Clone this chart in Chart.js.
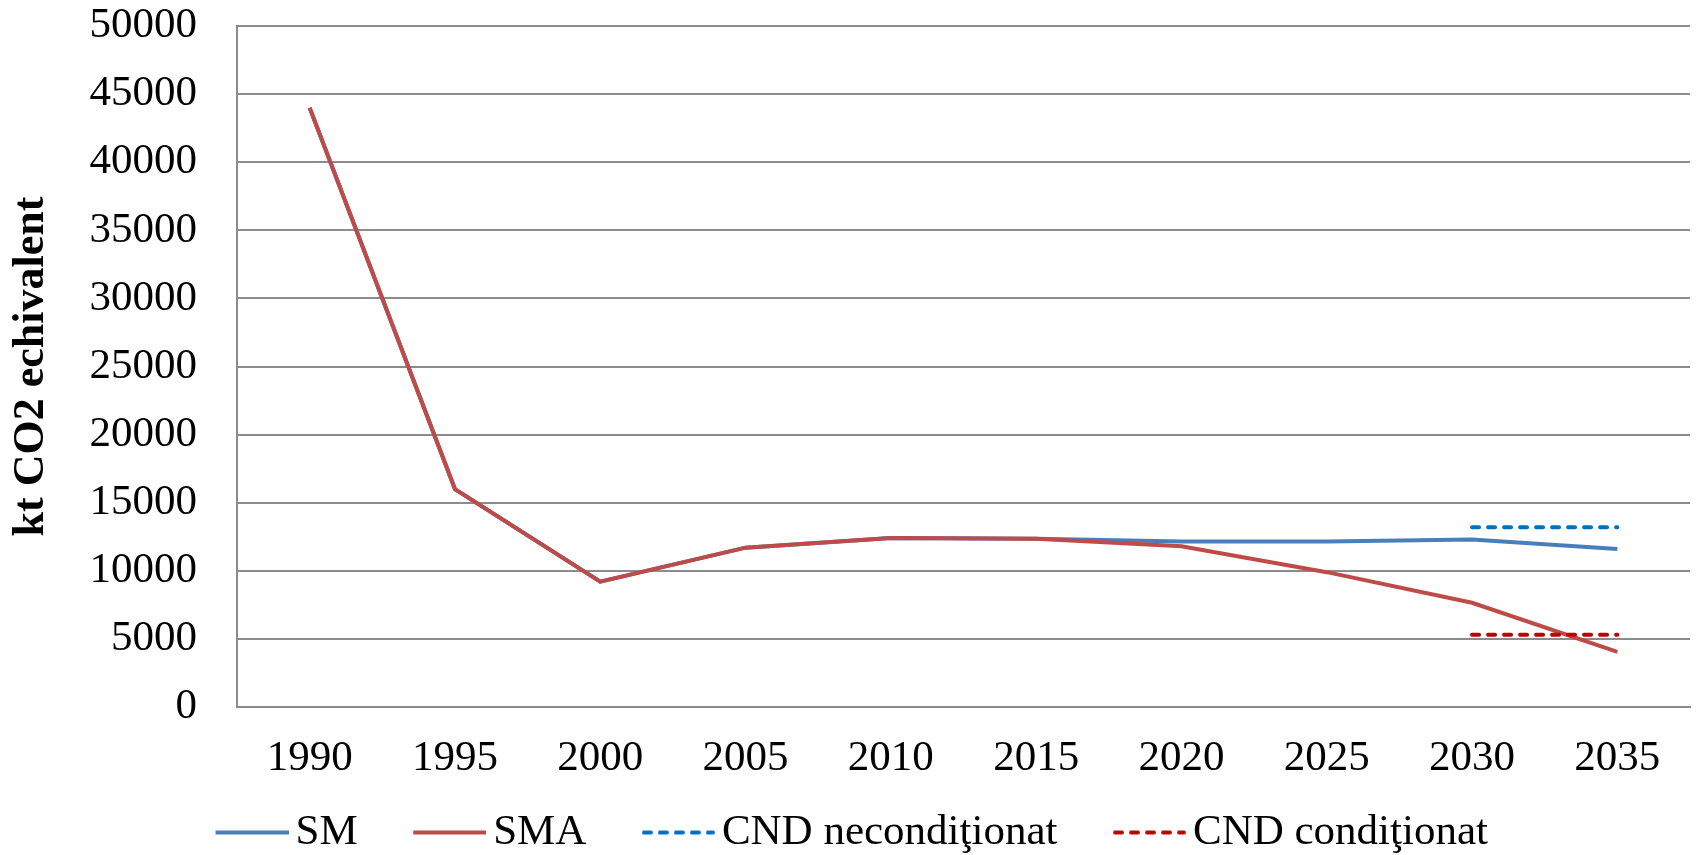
<!DOCTYPE html>
<html>
<head>
<meta charset="utf-8">
<script src="https://cdn.jsdelivr.net/npm/chart.js@4"></script>
<style>
html,body{margin:0;padding:0;background:#fff;}
#wrap{width:1696px;height:855px;position:relative;}
</style>
</head>
<body>
<div id="wrap"><canvas id="c"></canvas></div>
<script>
const years = ['1990','1995','2000','2005','2010','2015','2020','2025','2030','2035'];
const smValues = [44000, 16000, 9200, 11700, 12400, 12350, 12150, 12150, 12300, 11600];
const smaValues = [44000, 16000, 9200, 11700, 12400, 12350, 11800, 9900, 7650, 4050];
const cndNeconditionat = [null, null, null, null, null, null, null, null, 13200, 13200];
const cndConditionat = [null, null, null, null, null, null, null, null, 5300, 5300];
const yTicks = [0, 5000, 10000, 15000, 20000, 25000, 30000, 35000, 40000, 45000, 50000];

const FONT = "'Liberation Serif', 'Times New Roman', serif";
const GRID = '#8c8c8c';
const COLORS = ['#4A7EBB', '#BE4B48', '#0070C0', '#C00000'];
const DASH = [7, 9];

// legend line glyphs (line sits at the right part of the image, close to the text)
const BOXW = 82;
function legendGlyph(color, dashed) {
  const cv = document.createElement('canvas');
  cv.width = BOXW + 29; cv.height = 10;
  const g = cv.getContext('2d');
  g.strokeStyle = color; g.lineWidth = 4;
  g.lineCap = dashed ? 'round' : 'butt';
  if (dashed) g.setLineDash(DASH);
  g.beginPath();
  g.moveTo(cv.width - 73 + (dashed ? 2 : 0), 5);
  g.lineTo(cv.width - (dashed ? 2 : 0), 5);
  g.stroke();
  return cv;
}
const glyphs = [legendGlyph(COLORS[0], false), legendGlyph(COLORS[1], false), legendGlyph(COLORS[2], true), legendGlyph(COLORS[3], true)];

new Chart(document.getElementById('c'), {
  type: 'line',
  data: {
    labels: years,
    datasets: [
      {label: 'SM', data: smValues, borderColor: COLORS[0], backgroundColor: COLORS[0], borderWidth: 4, pointRadius: 0, order: 3, tension: 0},
      {label: 'SMA', data: smaValues, borderColor: COLORS[1], backgroundColor: COLORS[1], borderWidth: 4, pointRadius: 0, order: 2, tension: 0},
      {label: 'CND necondiţionat', data: cndNeconditionat, borderColor: COLORS[2], backgroundColor: COLORS[2], borderWidth: 4, borderDash: DASH, borderCapStyle: 'round', pointRadius: 0, order: 1},
      {label: 'CND condiţionat', data: cndConditionat, borderColor: COLORS[3], backgroundColor: COLORS[3], borderWidth: 4, borderDash: DASH, borderCapStyle: 'round', pointRadius: 0, order: 0}
    ]
  },
  options: {
    responsive: true,
    maintainAspectRatio: false,
    animation: false,
    devicePixelRatio: 1,
    layout: {padding: {left: -10, right: 6, top: 0, bottom: 0}},
    plugins: {
      tooltip: {enabled: false},
      legend: {
        position: 'bottom',
        maxHeight: 76,
        labels: {
          font: {family: FONT, size: 43},
          color: '#000',
          usePointStyle: true,
          pointStyleWidth: BOXW,
          boxWidth: BOXW,
          padding: 32,
          sort: (a, b) => a.datasetIndex - b.datasetIndex,
          generateLabels: (chart) => Chart.defaults.plugins.legend.labels.generateLabels(chart)
            .map(l => Object.assign(l, {pointStyle: glyphs[l.datasetIndex]}))
        }
      }
    },
    scales: {
      x: {
        offset: true,
        grid: {display: false, drawTicks: false},
        border: {display: true, color: GRID, width: 2},
        ticks: {font: {family: FONT, size: 43}, color: '#000', padding: 26, maxRotation: 0, autoSkip: false},
        afterFit: (s) => { s.height = 72; }
      },
      y: {
        min: 0,
        max: 50000,
        afterBuildTicks: (axis) => { axis.ticks = yTicks.map(v => ({value: v})); },
        grid: {color: GRID, lineWidth: 2, drawTicks: false},
        border: {display: true, color: GRID, width: 2},
        ticks: {font: {family: FONT, size: 43}, color: '#000', padding: 40, callback: (v) => String(v)},
        title: {display: true, text: 'kt CO2 echivalent', font: {family: FONT, size: 44, weight: 'bold', lineHeight: 1}, color: '#000', padding: {top: 20, bottom: 0}},
        afterFit: (s) => { s.width = 247; s.paddingTop = 26; s.paddingBottom = 0; }
      }
    }
  }
});
</script>
</body>
</html>
